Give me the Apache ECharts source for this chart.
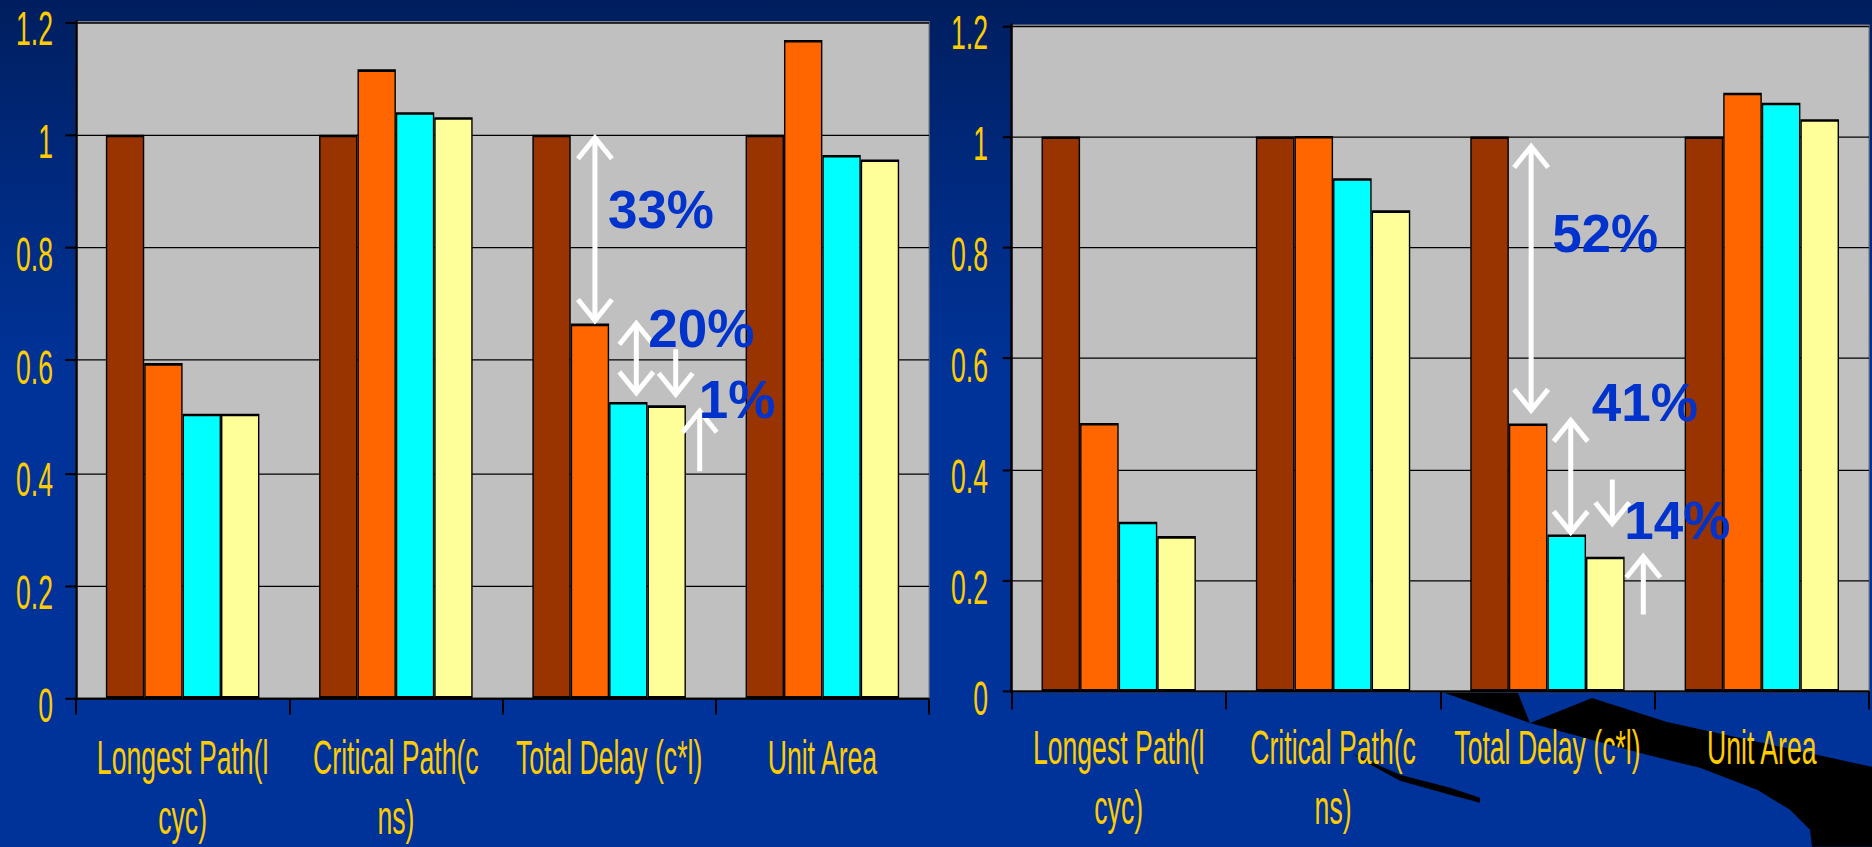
<!DOCTYPE html>
<html><head><meta charset="utf-8">
<script src="https://cdn.jsdelivr.net/npm/echarts@6/dist/echarts.min.js"></script>
<style>
html,body{margin:0;padding:0;width:1872px;height:847px;overflow:hidden;
background:linear-gradient(to bottom,#001E5E 0%,#00287A 18%,#003399 45%,#003399 100%);}
#chart{width:1872px;height:460px;transform:scaleY(1.841304);transform-origin:0 0;}
</style></head><body><div id="chart"></div>
<script>
// ---- data ----
const categories = ['Longest Path(l\ncyc)', 'Critical Path(c\nns)', 'Total Delay (c*l)', 'Unit Area'];
const seriesNames = ['Series 1', 'Series 2', 'Series 3', 'Series 4'];
const yTicks = [0, 0.2, 0.4, 0.6, 0.8, 1, 1.2];

const leftBrown  = [1, 1, 1, 1];
const leftOrange = [0.595, 1.116, 0.665, 1.168];
const leftCyan   = [0.505, 1.040, 0.526, 0.964];
const leftYellow = [0.505, 1.031, 0.520, 0.956];

const rightBrown  = [1, 1, 1, 1];
const rightOrange = [0.484, 1.001, 0.483, 1.079];
const rightCyan   = [0.306, 0.925, 0.283, 1.061];
const rightYellow = [0.280, 0.867, 0.243, 1.031];

const leftNotes  = ['33%', '20%', '1%'];
const rightNotes = ['52%', '41%', '14%'];

// ---- style ----
const S = 847 / 460;   // vertical stretch of the whole chart (text looks tall & narrow)
const colors = ['#993300', '#FF6600', '#00FFFF', '#FFFF99'];
const FONT = "'Liberation Sans', Arial, sans-serif";
const FS = 26.6;

function xAxisOpt(gi, margin, tickLen) {
  return {
    type: 'category', gridIndex: gi, data: categories,
    axisLine: { show: true, lineStyle: { color: '#000', width: 1.1 } },
    axisTick: { show: true, length: tickLen, lineStyle: { color: '#000', width: 2 } },
    axisLabel: { color: '#FFCC00', fontFamily: FONT, fontSize: FS, lineHeight: 60 / S, margin: margin, interval: 0 },
    splitLine: { show: false }
  };
}
function yAxisOpt(gi, tickLen, margin) {
  return {
    type: 'value', gridIndex: gi,
    min: yTicks[0], max: yTicks[yTicks.length - 1], interval: yTicks[1] - yTicks[0],
    axisLine: { show: true, lineStyle: { color: '#000', width: 2.5 } },
    axisTick: { show: true, length: tickLen, lineStyle: { color: '#000', width: 1.1 } },
    axisLabel: {
      margin: margin,
      formatter: v => '{t|' + Number(v.toFixed(1)) + '}',
      rich: { t: { color: '#FFCC00', fontFamily: FONT, fontSize: FS, padding: [6.5, 0, 0, 0] } }
    },
    splitLine: { show: true, lineStyle: { color: '#000', width: 0.7 } }
  };
}
function barSeries(gi, idx, data) {
  return {
    type: 'bar', name: seriesNames[idx], xAxisIndex: gi, yAxisIndex: gi, data: data,
    barWidth: '18%', barGap: '0%',
    itemStyle: { color: colors[idx], borderColor: '#000', borderWidth: 1.4 },
    emphasis: { disabled: true }, animation: false
  };
}

const chart = echarts.init(document.getElementById('chart'), null, { renderer: 'svg' });
const gridBase = { show: true, backgroundColor: '#C0C0C0', borderColor: '#808080', borderWidth: 1.2 };
chart.setOption({
  backgroundColor: 'transparent',
  animation: false,
  grid: [
    Object.assign({ left: 76, top: 22 / S, width: 853, height: (699.5 - 22) / S }, gridBase),
    Object.assign({ left: 1011.5, top: 25.5 / S, width: 857.5, height: (691.5 - 25.5) / S }, gridBase)
  ],
  xAxis: [xAxisOpt(0, 15.5, 16 / S), xAxisOpt(1, 13.5, 18 / S)],
  yAxis: [yAxisOpt(0, 10.7, 23), yAxisOpt(1, 8.7, 23.5)],
  series: [
    barSeries(0, 0, leftBrown), barSeries(0, 1, leftOrange), barSeries(0, 2, leftCyan), barSeries(0, 3, leftYellow),
    barSeries(1, 0, rightBrown), barSeries(1, 1, rightOrange), barSeries(1, 2, rightCyan), barSeries(1, 3, rightYellow)
  ]
});

// ---- annotations (positions computed from the axes, drawn in unstretched pixel space) ----
function px(gi, cat, val) {
  const p = chart.convertToPixel({ gridIndex: gi }, [cat, val]);
  return [p[0], p[1] * S];
}
function barX(gi, cat, s) {
  const band = px(gi, 1, 0)[0] - px(gi, 0, 0)[0];
  return px(gi, cat, 0)[0] + (s - 1.5) * band * 0.18;
}
function line(pts) {
  return { type: 'polyline', shape: { points: pts }, style: { stroke: '#fff', lineWidth: 5, fill: null, lineJoin: 'miter', lineCap: 'butt' } };
}
function arrow(x, y1, y2, headTop, headBot) {
  const els = [line([[x, y1 + (headTop ? 3 : 0)], [x, y2 - (headBot ? 3 : 0)]])];
  if (headTop) els.push(line([[x - 17, y1 + 24], [x, y1 + 3], [x + 17, y1 + 24]]));
  if (headBot) els.push(line([[x - 17, y2 - 24], [x, y2 - 3], [x + 17, y2 - 24]]));
  return els;
}
function note(text, x, cy) {
  return { type: 'text', x: x, y: cy, style: { text: text, font: 'bold 53px "Liberation Sans", Arial, sans-serif', fill: '#0033CC', align: 'left', verticalAlign: 'middle' } };
}

const els = [];
// left chart, Total Delay
{
  const c = 2, gi = 0;
  const y1 = px(gi, c, leftBrown[c])[1], yO = px(gi, c, leftOrange[c])[1];
  const yC = px(gi, c, leftCyan[c])[1], yY = px(gi, c, leftYellow[c])[1];
  const xA = barX(gi, c, 1) + 5, xB = barX(gi, c, 2) + 8, xY = barX(gi, c, 3);
  els.push(...arrow(xA, y1, yO, true, true));
  els.push(note(leftNotes[0], xA + 13, y1 + 75));
  els.push(...arrow(xB, yO - 3, yC - 6, true, true));
  els.push(note(leftNotes[1], xB + 12, yO + 5));
  els.push(...arrow(xY + 9, yY - 56, yY - 8, false, true));
  els.push(...arrow(xY + 33, yY + 3, yY + 66, true, false));
  els.push(note(leftNotes[2], xY + 32, yY - 6));
}
// right chart, Total Delay
{
  const c = 2, gi = 1;
  const y1 = px(gi, c, rightBrown[c])[1], yO = px(gi, c, rightOrange[c])[1];
  const yC = px(gi, c, rightCyan[c])[1], yY = px(gi, c, rightYellow[c])[1];
  const xA = barX(gi, c, 1) + 3, xB = barX(gi, c, 2) + 4, xY = barX(gi, c, 3);
  els.push(...arrow(xA, y1 + 7, yO - 10, true, true));
  els.push(note(rightNotes[0], xA + 21, y1 + 97));
  els.push(...arrow(xB, yO - 6, yC + 1, true, true));
  els.push(note(rightNotes[1], xB + 21, yO - 21));
  els.push(...arrow(xY + 7, yY - 77, yY - 30, false, true));
  els.push(...arrow(xY + 38, yY - 3, yY + 58, true, false));
  els.push(note(rightNotes[2], xY + 19, yY - 36));
}

// decorative template swoosh (background)
const swoosh = [
  { type: 'polygon', z: -1, shape: { points: [[1442,692],[1518,693],[1530,723],[1592,698],[1667,722],[1872,767],[1872,847],[1812,847],[1810,830],[1790,810],[1757,790],[1700,768],[1647,755],[1530,723]] }, style: { fill: '#000' } },
  { type: 'polygon', z: -1, shape: { points: [[1353,754],[1400,775],[1450,788],[1480,798],[1480,803],[1450,795],[1400,781],[1360,759]] }, style: { fill: '#000' } }
];

chart.setOption({
  graphic: [
    { type: 'group', z: -1, scaleY: 1 / S, children: swoosh },
    { type: 'group', z: 100, scaleY: 1 / S, children: els.map(e => Object.assign({ z: 100 }, e)) }
  ]
});
</script></body></html>
